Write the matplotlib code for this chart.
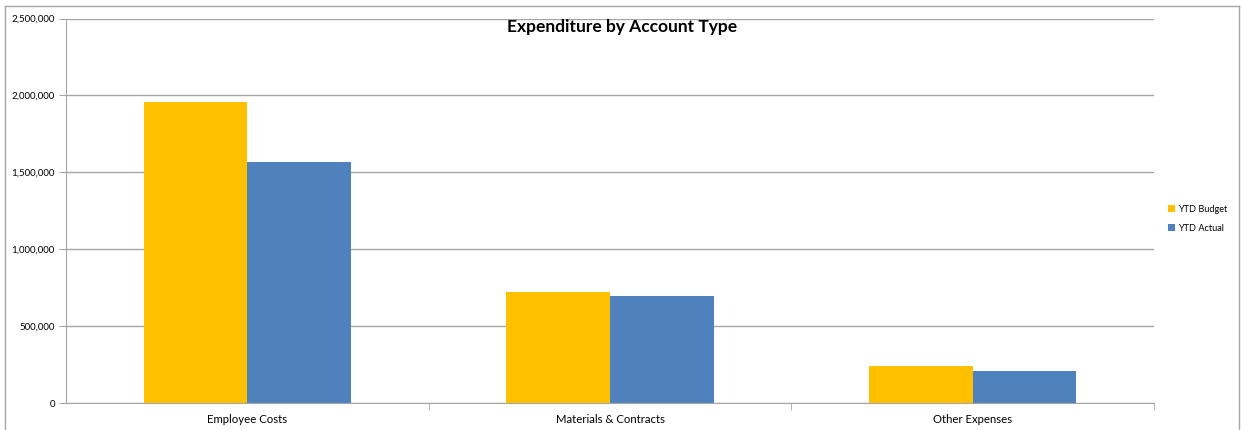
import numpy as np
import matplotlib.pyplot as plt
from matplotlib.ticker import FuncFormatter
from matplotlib.lines import Line2D

categories = ['Employee Costs', 'Materials & Contracts', 'Other Expenses']
ytd_budget = [1956000, 724000, 242000]
ytd_actual = [1565000, 695000, 210000]

plt.rcParams['font.family'] = ['Lato', 'DejaVu Sans']

fig = plt.figure(figsize=(12.42, 4.30), dpi=100)
ax = fig.add_axes([66/1242, 1 - 403.3/430, (1154-66)/1242, (403.3-18.5)/430])

x = np.arange(len(categories))
w = 0.2857
ax.bar(x - w/2, ytd_budget, w, color='#FFC000', label='YTD Budget')
ax.bar(x + w/2, ytd_actual, w, color='#4F81BD', label='YTD Actual')

ax.set_xlim(-0.5, 2.5)
ax.set_ylim(0, 2500000)
ax.set_yticks(np.arange(0, 2500001, 500000))
ax.yaxis.set_major_formatter(FuncFormatter(lambda v, p: f'{int(v):,}'))
ax.grid(axis='y', color='#A6A6A6', linewidth=1)
ax.set_axisbelow(True)

ax.set_xticks(x)
ax.set_xticklabels(categories)
ax.set_xticks([0.5, 1.5, 2.5], minor=True)
ax.tick_params(axis='x', which='major', length=0, pad=8, labelsize=8.2, colors='#000000')
ax.tick_params(axis='x', which='minor', length=5, color='#A6A6A6')
ax.tick_params(axis='y', length=5, color='#A6A6A6', labelsize=7, pad=3)

for s in ['top', 'right']:
    ax.spines[s].set_visible(False)
ax.spines['left'].set_color('#A6A6A6')
ax.spines['bottom'].set_color('#A6A6A6')

fig.text(622/1242, 1 - 27/430, 'Expenditure by Account Type', fontsize=12.5,
         fontweight='bold', ha='center', va='center')

fig.legend(loc='center left', bbox_to_anchor=(1160/1242, 1 - 219/430), frameon=False,
           fontsize=6.6, handlelength=0.75, handleheight=0.75, handletextpad=0.3,
           labelspacing=1.1)

# outer chart border
bc = '#A6A6A6'
fig.add_artist(Line2D([5/1242, 5/1242], [0, 1 - 6/430], color=bc, lw=1, transform=fig.transFigure))
fig.add_artist(Line2D([5/1242, 1239/1242], [1 - 6/430, 1 - 6/430], color=bc, lw=1, transform=fig.transFigure))
fig.add_artist(Line2D([1239/1242, 1239/1242], [0, 1 - 6/430], color=bc, lw=1, transform=fig.transFigure))

fig.savefig('out.png', dpi=100)
